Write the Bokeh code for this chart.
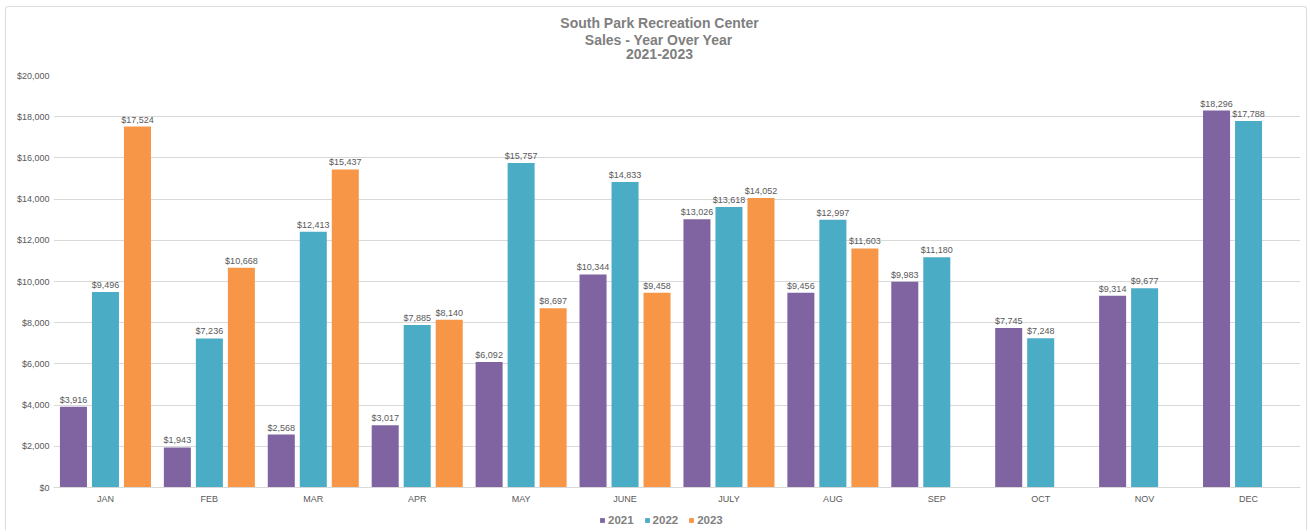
from bokeh.plotting import figure
from bokeh.models import (ColumnDataSource, FactorRange, Range1d, NumeralTickFormatter,
                          FixedTicker, Title, Legend, LegendItem, Span, InlineStyleSheet)
from bokeh.core.properties import value
from bokeh.transform import dodge
from bokeh.embed import file_html
from bokeh.resources import INLINE

months = ["JAN", "FEB", "MAR", "APR", "MAY", "JUNE", "JULY", "AUG", "SEP", "OCT", "NOV", "DEC"]
sales_2021 = [3916, 1943, 2568, 3017, 6092, 10344, 13026, 9456, 9983, 7745, 9314, 18296]
sales_2022 = [9496, 7236, 12413, 7885, 15757, 14833, 13618, 12997, 11180, 7248, 9677, 17788]
sales_2023 = [17524, 10668, 15437, 8140, 8697, 9458, 14052, 11603]
years = ["2021", "2022", "2023"]
colors = ["#8064A2", "#4BACC6", "#F79646"]
y_ticks = [0, 2000, 4000, 6000, 8000, 10000, 12000, 14000, 16000, 18000, 20000]
title_lines = ["South Park Recreation Center", "Sales - Year Over Year", "2021-2023"]

FONT = "Liberation Sans"
GREY = "#595959"
TGREY = "#7f7f7f"

# plot area: 412 px for $0..$20,000, plus 43 px below $0 for the category labels and legend
PLOT_PX, EXTRA_PX = 412, 43
y_max = y_ticks[-1]
y_min = -y_max * EXTRA_PX / PLOT_PX

p = figure(x_range=FactorRange(*months), y_range=Range1d(y_min, y_max),
           frame_width=1247, frame_height=PLOT_PX + EXTRA_PX,
           min_border_left=53, min_border_right=7, min_border_top=75, min_border_bottom=0,
           output_backend="svg", toolbar_location=None, outline_line_color=None)

# light chart-area border (does not take part in the layout)
p.stylesheets = [InlineStyleSheet(css=(
    ":host::after { content: ''; position: absolute; left: 5px; top: 6px; right: 0px; bottom: 0px;"
    " border: 1px solid #dcdcdc; border-bottom: none; border-radius: 3px 3px 0 0;"
    " pointer-events: none; box-sizing: border-box; }"))]

series = [sales_2021, sales_2022, sales_2023]
offsets = [-0.308, 0.0, 0.308]
renderers = []
for vals, col, off, yr in zip(series, colors, offsets, years):
    src = ColumnDataSource(dict(x=months[:len(vals)], y=vals,
                                lab=["${:,}".format(v) for v in vals]))
    r = p.vbar(x=dodge("x", off, range=p.x_range), top="y", width=0.26, source=src,
               fill_color=col, line_color=None)
    renderers.append(r)
    p.text(x=dodge("x", off, range=p.x_range), y="y", text="lab", source=src,
           text_align="center", text_baseline="alphabetic", y_offset=-7,
           text_font_size="9px", text_color=GREY, text_font=value(FONT))

# category axis drawn inside the plot area
p.add_layout(Span(location=0, dimension="width", line_color="#d9d9d9", line_width=1))
cat_src = ColumnDataSource(dict(x=months, y=[0] * len(months)))
p.text(x="x", y="y", text="x", source=cat_src, text_align="center", text_baseline="middle",
       y_offset=11, text_font_size="9px", text_color=GREY, text_font=value(FONT))
p.xaxis.visible = False

# value axis
p.yaxis.ticker = FixedTicker(ticks=y_ticks)
p.yaxis.formatter = NumeralTickFormatter(format="$0,0")
p.yaxis.axis_line_color = None
p.yaxis.major_tick_line_color = None
p.yaxis.minor_tick_line_color = None
p.yaxis.major_tick_out = 0
p.yaxis.major_tick_in = 0
p.yaxis.major_label_text_font_size = "9px"
p.yaxis.major_label_text_color = GREY
p.yaxis.major_label_text_font = FONT
p.yaxis.major_label_standoff = 4

p.xgrid.grid_line_color = None
p.ygrid.grid_line_color = "#d9d9d9"
p.ygrid.ticker = FixedTicker(ticks=y_ticks)

# spacer between the frame and the title block
p.add_layout(Title(text=" ", standoff=-1, text_font_size="14px", text_font=FONT), "above")
# title: three stacked lines above the frame (bottom line added first)
title_offsets = [572.5, 531.3, 506.8]
for txt, off in zip(title_lines[::-1], title_offsets):
    p.add_layout(Title(text=txt, align="left", offset=off, standoff=-1.5,
                       text_font_size="14px", text_font_style="bold",
                       text_color=TGREY, text_font=FONT), "above")

legend = Legend(items=[LegendItem(label=yr, renderers=[r]) for yr, r in zip(years, renderers)],
                orientation="horizontal", location=(546, 4),
                glyph_width=6, glyph_height=6, label_standoff=3, spacing=10,
                padding=0, margin=0, border_line_color=None, background_fill_alpha=0,
                label_text_font_size="11.5px", label_text_font_style="bold",
                label_text_color=TGREY, label_text_font=FONT,
                label_height=12)
p.add_layout(legend, "center")

open("out.html", "w").write(file_html(p, INLINE))
